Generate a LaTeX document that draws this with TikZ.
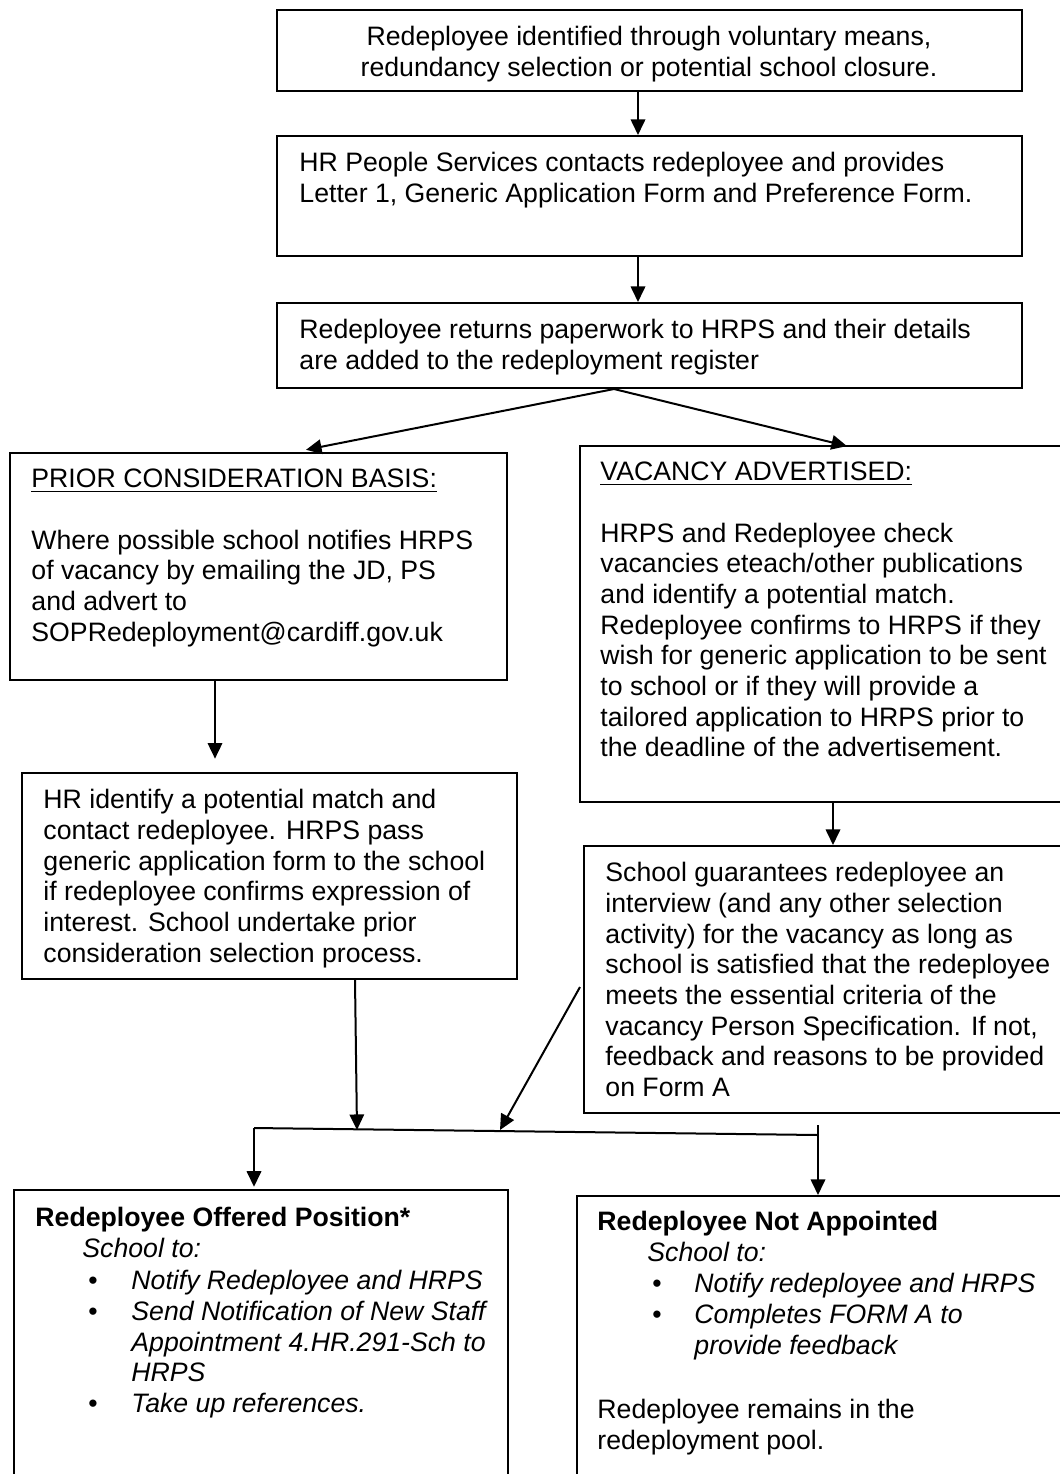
\documentclass[tikz,border=0pt]{standalone}
\usepackage{fontspec}
\setmainfont{Liberation Sans}
\usetikzlibrary{arrows.meta,fit}
\newcommand\fs{\fontsize{12}{13.8}\selectfont}
\begin{document}
\begin{tikzpicture}[x=0.45pt,y=-0.45pt,
  box/.style={draw, line width=0.9pt, inner sep=0pt, rectangle},
  txt/.style={anchor=north west, inner sep=0pt, align=left, font=\fs},
  arr/.style={line width=0.9pt, -{Triangle[length=7pt,width=6.5pt]}},
  ln/.style={line width=0.9pt}]
\useasboundingbox (0,0) rectangle (1060,1474);
\clip (0,0) rectangle (1060,1474);
\fill[white] (0,0) rectangle (1060,1474);

% boxes
\node[box, fit={(277,10) (1022,91)}] (b1) {};
\node[box, fit={(277,136) (1022,256)}] (b2) {};
\node[box, fit={(277,303) (1022,388)}] (b3) {};
\node[box, fit={(10,453) (507,680)}] (b4) {};
\node[box, fit={(580,446) (1066,802)}] (b5) {};
\node[box, fit={(22,773) (517,979)}] (b6) {};
\node[box, fit={(584,846) (1066,1113)}] (b7) {};
\node[box, fit={(14,1190) (508,1500)}] (b8) {};
\node[box, fit={(577,1196) (1066,1500)}] (b9) {};

% texts
\node[txt, anchor=north, align=center] (t1) at (649,24) {\strut Redeployee identified through voluntary means,\\redundancy selection or potential school closure.};
\node[txt] (t2) at (299,150) {\strut HR People Services contacts redeployee and provides\\Letter 1, Generic Application Form and Preference Form.};
\node[txt] (t3) at (299,317) {\strut Redeployee returns paperwork to HRPS and their details\\are added to the redeployment register};
\node[txt] (t4) at (31,466) {\strut\underline{PRIOR CONSIDERATION BASIS:}\\[13.8pt]
Where possible school notifies HRPS\\of vacancy by emailing the JD, PS\\and advert to\\SOPRedeployment@cardiff.gov.uk};
\node[txt] (t5) at (600,459) {\strut\underline{VACANCY ADVERTISED:}\\[13.8pt]
HRPS and Redeployee check\\vacancies eteach/other publications\\and identify a potential match.\\Redeployee confirms to HRPS if they\\wish for generic application to be sent\\to school or if they will provide a\\tailored application to HRPS prior to\\the deadline of the advertisement.};
\node[txt] (t6) at (43,787) {\strut HR identify a potential match and\\contact redeployee. HRPS pass\\generic application form to the school\\if redeployee confirms expression of\\interest. School undertake prior\\consideration selection process.};
\node[txt] (t7) at (605,860) {\strut School guarantees redeployee an\\interview (and any other selection\\activity) for the vacancy as long as\\school is satisfied that the redeployee\\meets the essential criteria of the\\vacancy Person Specification. If not,\\feedback and reasons to be provided\\on Form A};

\node[txt, font=\fs\bfseries] (t8a) at (35,1205) {\strut Redeployee Offered Position*};
\node[txt, font=\fs\itshape] (t8b) at (82,1236) {\strut School to:};
\node[txt] (t8c) at (88,1268) {\strut •\\•\\\mbox{}\\\mbox{}\\•};
\node[txt, font=\fs\itshape] (t8d) at (131,1268) {\strut Notify Redeployee and HRPS\\Send Notification of New Staff\\Appointment 4.HR.291-Sch to\\HRPS\\Take up references.};

\node[txt, font=\fs\bfseries] (t9a) at (597,1209) {\strut Redeployee Not Appointed};
\node[txt, font=\fs\itshape] (t9b) at (647,1240) {\strut School to:};
\node[txt] (t9c) at (652,1271) {\strut •\\•};
\node[txt, font=\fs\itshape] (t9d) at (694,1271) {\strut Notify redeployee and HRPS\\Completes FORM A to\\provide feedback};
\node[txt] (t9e) at (597,1397) {\strut Redeployee remains in the\\redeployment pool.};

% reference coordinates
\coordinate (x638) at (638,0);
\coordinate (x614) at (614,0);
\coordinate (x306) at (306,0);
\coordinate (x847) at (847,0);
\coordinate (x215) at (215,0);
\coordinate (x833) at (833,0);
\coordinate (x355) at (355,0);
\coordinate (jl) at (254,1128);
\coordinate (jr) at (818,1135);
\coordinate (jtop) at (818,1125);
\coordinate (ja) at (357,1130);
\coordinate (jb) at (500,1130);
\coordinate (s7) at (580,987);

% connectors
\draw[arr] (b1.south -| x638) -- (b2.north -| x638);
\draw[arr] (b2.south -| x638) -- (b3.north -| x638);
\draw[arr] (b3.south -| x614) -- ([yshift=1pt]b4.north -| x306);
\draw[arr] (b3.south -| x614) -- ([yshift=-0.5pt]b5.north -| x847);
\draw[arr] (b4.south -| x215) -- ([yshift=6pt]b6.north -| x215);
\draw[arr] (b5.south -| x833) -- (b7.north -| x833);
\draw[arr] (b6.south -| x355) -- (ja);
\draw[arr] (s7) -- (jb);
\draw[ln] (jl) -- (jr);
\draw[arr] (jl) -- ([yshift=1pt]b8.north -| jl);
\draw[arr] (jtop) -- (b9.north -| jtop);
\end{tikzpicture}
\end{document}
